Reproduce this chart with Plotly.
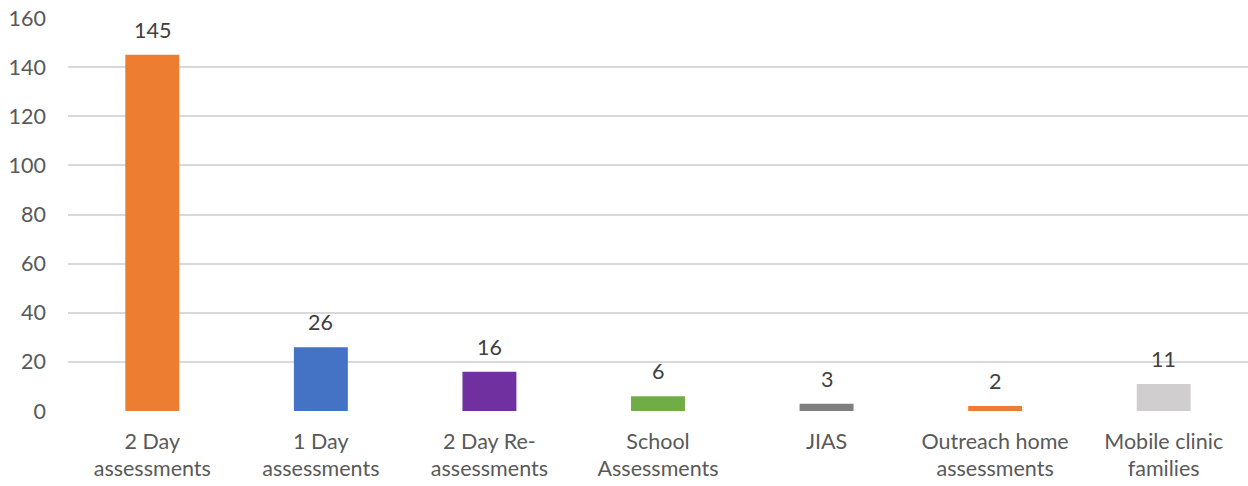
import plotly.graph_objects as go

categories = [
    "2 Day<br>assessments",
    "1 Day<br>assessments",
    "2 Day Re-<br>assessments",
    "School<br>Assessments",
    "JIAS",
    "Outreach home<br>assessments",
    "Mobile clinic<br>families",
]
values = [145, 26, 16, 6, 3, 2, 11]
bar_colors = ["#ED7D31", "#4472C4", "#7030A0", "#70AD47", "#7F7F7F", "#ED7D31", "#D0CECE"]
y_ticks = [0, 20, 40, 60, 80, 100, 120, 140, 160]

FONT = "Lato, Open Sans, sans-serif"
SIZE = 21.5

fig = go.Figure(
    go.Bar(
        x=categories,
        y=values,
        marker=dict(color=bar_colors, line=dict(width=0)),
        hoverinfo="x+y",
    )
)

for c, v in zip(categories, values):
    fig.add_annotation(
        x=c, y=v, text=str(v), showarrow=False,
        yanchor="bottom", yshift=10,
        font=dict(family=FONT, size=SIZE, color="#404040"),
    )

fig.update_layout(
    width=1248, height=486,
    margin=dict(l=68, r=0, t=18, b=75),
    paper_bgcolor="white", plot_bgcolor="white",
    bargap=0.68,
    showlegend=False,
    font=dict(family=FONT, size=SIZE, color="#595959"),
)
fig.update_xaxes(
    showgrid=False, showline=False, ticks="",
    ticklabelstandoff=15,
    tickfont=dict(family=FONT, size=SIZE, color="#595959"),
)
fig.update_yaxes(
    range=[0, 160], tickvals=y_ticks, showgrid=True,
    gridcolor="#D9D9D9", gridwidth=1.6, zeroline=False,
    showline=False, ticks="", ticklabelstandoff=21,
    tickfont=dict(family=FONT, size=SIZE, color="#595959"),
)

fig.write_html("out.html")
